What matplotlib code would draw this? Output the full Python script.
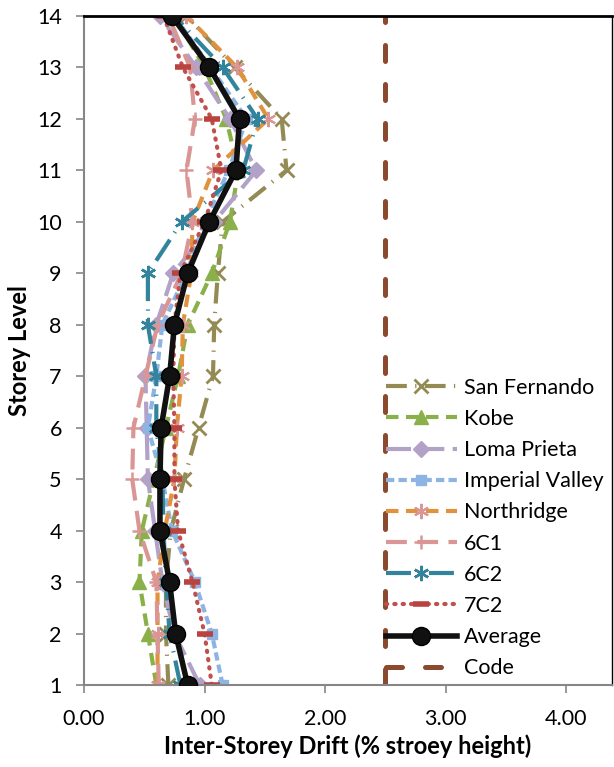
import numpy as np
import matplotlib.pyplot as plt

plt.rcParams['font.family'] = ['Lato', 'DejaVu Sans']

# storey levels and drift (% storey height) for each record
levels = np.arange(1, 15)
san_fernando = [0.70, 0.68, 0.68, 0.72, 0.83, 0.95, 1.07, 1.08, 1.11, 1.15, 1.68, 1.64, 1.25, 0.85]
kobe = [0.60, 0.53, 0.46, 0.48, 0.58, 0.68, 0.78, 0.86, 1.06, 1.21, 1.28, 1.18, 1.00, 0.75]
loma_prieta = [0.96, 0.75, 0.65, 0.59, 0.53, 0.52, 0.51, 0.60, 0.74, 1.08, 1.43, 1.21, 0.93, 0.63]
imperial_valley = [1.15, 1.06, 0.92, 0.73, 0.65, 0.53, 0.60, 0.65, 0.85, 1.00, 1.20, 1.35, 1.05, 0.75]
northridge = [0.61, 0.61, 0.61, 0.67, 0.75, 0.77, 0.81, 0.82, 0.89, 0.90, 1.07, 1.53, 1.27, 0.85]
c6c1 = [0.62, 0.61, 0.60, 0.46, 0.40, 0.41, 0.51, 0.61, 0.81, 0.90, 0.85, 0.92, 0.88, 0.70]
c6c2 = [0.80, 0.71, 0.68, 0.66, 0.65, 0.60, 0.60, 0.53, 0.53, 0.81, 1.32, 1.44, 1.15, 0.75]
c7c2 = [1.06, 1.00, 0.90, 0.78, 0.75, 0.75, 0.74, 0.75, 0.80, 1.00, 1.14, 1.06, 0.82, 0.66]
average = [0.86, 0.76, 0.71, 0.63, 0.63, 0.64, 0.71, 0.75, 0.86, 1.04, 1.26, 1.29, 1.04, 0.73]
code = [2.5] * 14
xticks = [0, 1, 2, 3, 4]

fig = plt.figure(figsize=(6.14, 7.67), dpi=100)
ax = fig.add_axes([84 / 614, (767 - 685) / 767, (612 - 84) / 614, (685 - 16) / 767])

lw = 3
ax.plot(san_fernando, levels, color='#948A54', lw=lw, ls=(0, (5, 2, 0.3, 2)),
        marker='x', ms=10, mew=2, label='San Fernando')
ax.plot(kobe, levels, color='#8AB04A', lw=lw, ls=(0, (3, 1.8)),
        marker='^', ms=10, label='Kobe')
ax.plot(loma_prieta, levels, color='#B3A2C7', lw=lw, ls=(0, (6, 2)),
        marker='D', ms=8, label='Loma Prieta')
ax.plot(imperial_valley, levels, color='#8DB4E3', lw=lw, ls=(0, (2, 1)),
        marker='s', ms=7, label='Imperial Valley')
ax.plot(northridge, levels, color='#E0923F', lw=lw, ls=(0, (3, 1.8)),
        marker=(6, 2, 0), ms=11, mew=1.5, mec='#DA9694', mfc='#DA9694', label='Northridge')
ax.plot(c6c1, levels, color='#DA9694', lw=lw, ls=(0, (5, 2.5)),
        marker='+', ms=10, mew=1.8, label='6C1')
ax.plot(c6c2, levels, color='#31849B', lw=lw, ls=(0, (6, 2, 0.3, 2)),
        marker=(6, 2, 0), ms=11, mew=1.8, label='6C2')
ax.plot(c7c2, levels, color='#C0504D', lw=lw, ls=(0, (0.3, 1.7)), dash_capstyle='round',
        marker='_', ms=12, mew=4, mec='#B8433F', label='7C2')
ax.plot(average, levels, color='#111111', lw=4, marker='o', ms=13,
        mec='#000000', label='Average', zorder=5)
ax.plot(code, levels, color='#8B4A2E', lw=3.6, ls=(0, (3.2, 4.6)), dash_capstyle='round',
        label='Code')

ax.set_xlim(0, 4.38)
ax.set_ylim(1, 14)
ax.set_xticks(xticks)
ax.set_xticklabels(['%.2f' % v for v in xticks])
ax.set_yticks(levels)
ax.tick_params(labelsize=15.5, direction='out', color='#868686', length=6, width=1.2)
ax.tick_params(axis='x', pad=11)
ax.tick_params(axis='y', pad=10)

for s in ['left', 'bottom']:
    ax.spines[s].set_color('#868686')
    ax.spines[s].set_linewidth(1.5)
ax.spines['top'].set_color('black')
ax.spines['top'].set_linewidth(2)
ax.spines['right'].set_color('black')
ax.spines['right'].set_linewidth(1)

ax.set_xlabel('Inter-Storey Drift (% stroey height)', fontsize=17, fontweight='bold', labelpad=4)
ax.set_ylabel('Storey Level', fontsize=17, fontweight='bold', labelpad=4)

ax.legend(loc='lower left', bbox_to_anchor=(0.555, -0.003), frameon=False, fontsize=15.5,
          handlelength=3.3, handletextpad=0.35, labelspacing=0.52, borderaxespad=0)

fig.savefig('out.png', dpi=100)
